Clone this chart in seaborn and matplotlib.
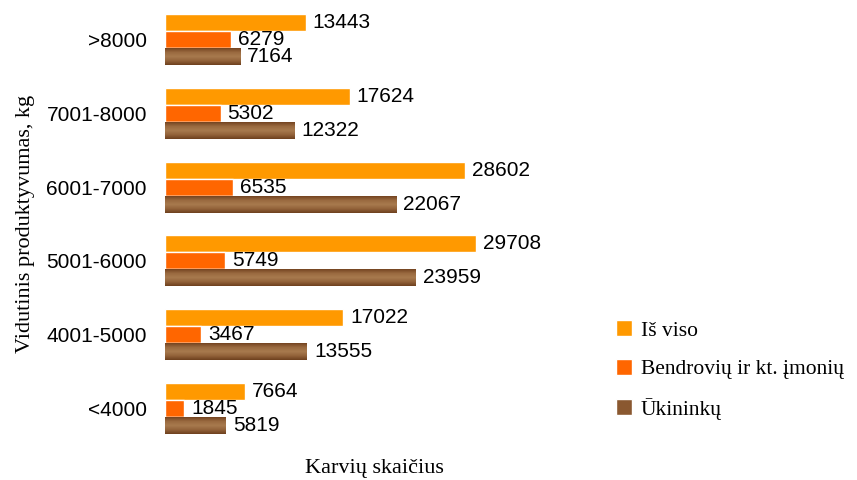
import matplotlib
matplotlib.use("Agg")
import numpy as np
import pandas as pd
import matplotlib.pyplot as plt
import seaborn as sns
from matplotlib.colors import LinearSegmentedColormap

# data
categories = [">8000", "7001-8000", "6001-7000", "5001-6000", "4001-5000", "<4000"]
series = ["Iš viso", "Bendrovių ir kt. įmonių", "Ūkininkų"]
total = [13443, 17624, 28602, 29708, 17022, 7664]
companies = [6279, 5302, 6535, 5749, 3467, 1845]
farmers = [7164, 12322, 22067, 23959, 13555, 5819]

df = pd.DataFrame({
    "cat": categories * 3,
    "series": [series[0]] * 6 + [series[1]] * 6 + [series[2]] * 6,
    "value": total + companies + farmers,
})

sns.set_style("white")
plt.rcParams["text.color"] = "black"
plt.rcParams["axes.labelcolor"] = "black"
plt.rcParams["ytick.color"] = "black"
num_font = ["Liberation Sans", "DejaVu Sans"]
serif_font = ["Liberation Serif", "DejaVu Serif"]

fig = plt.figure(figsize=(8.57, 4.8), dpi=100)
ax = fig.add_axes([165 / 857, 1 - 445 / 480, 419 / 857, 442 / 480])

sns.barplot(
    data=df, y="cat", x="value", hue="series",
    order=categories, hue_order=series,
    palette=["#FF9900", "#FF6600", "#8A5830"],
    width=0.69, orient="h", ax=ax, errorbar=None,
    saturation=1, legend=True
)

# wood-like gradient on the farmers bars
wood = LinearSegmentedColormap.from_list(
    "wood", ["#744421", "#9A6A40", "#A87A4E", "#93633A", "#6E401E"])
grad = np.linspace(0, 1, 64).reshape(-1, 1)
for p in ax.containers[2]:
    x0, y0 = p.get_x(), p.get_y()
    w, h = p.get_width(), p.get_height()
    im = ax.imshow(grad, cmap=wood, aspect="auto",
                   extent=(x0, x0 + w, y0 + h, y0), zorder=p.get_zorder() + 0.1)
    im.set_clip_path(p)

for c in ax.containers:
    ax.bar_label(c, labels=[f"{int(v)}" for v in c.datavalues], padding=5,
                 fontsize=15, family=num_font, color="black")

ax.set_xlim(0, 40000)
ax.set_ylim(5.5, -0.5)
for s in ax.spines.values():
    s.set_visible(False)
ax.set_xticks([])
ax.tick_params(axis="y", length=0, pad=13)
for t in ax.get_yticklabels():
    t.set_fontsize(15)
    t.set_family(num_font)

ax.set_xlabel("Karvių skaičius", fontsize=16, family=serif_font, labelpad=10)
ax.set_ylabel("Vidutinis produktyvumas, kg", fontsize=16, family=serif_font, labelpad=8)

handles, labels = ax.get_legend_handles_labels()
ax.legend(handles, labels, loc="center left", bbox_to_anchor=(1.03, 0.17),
          frameon=False, handlelength=0.75, handleheight=0.75, handletextpad=0.4,
          labelspacing=0.85, prop={"family": serif_font, "size": 15.5})

fig.savefig("out.png", dpi=100)
